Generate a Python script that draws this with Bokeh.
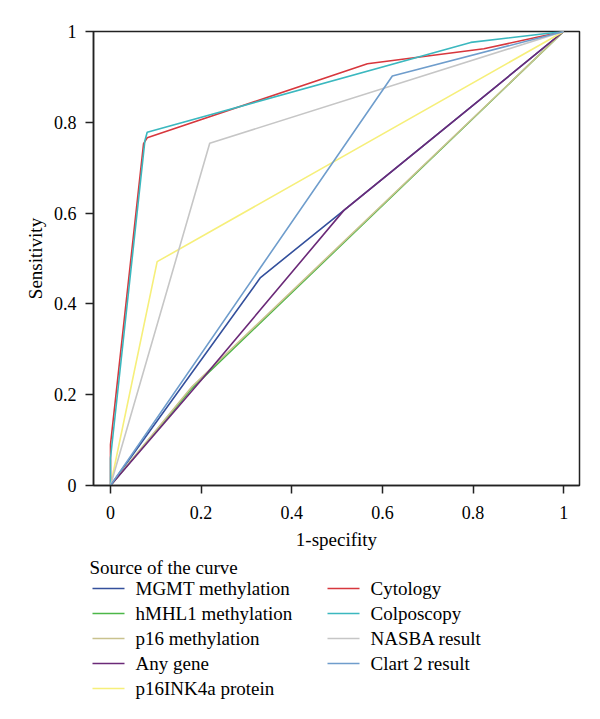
from bokeh.plotting import figure
from bokeh.models import Range1d, FixedTicker
from bokeh.core.properties import value
from bokeh.layouts import column
from bokeh.embed import file_html
from bokeh.resources import INLINE

# ---- data ----
names = ["MGMT methylation", "hMHL1 methylation", "p16 methylation", "Any gene",
         "p16INK4a protein", "Cytology", "Colposcopy", "NASBA result", "Clart 2 result"]
colors = ["#34509c", "#4cb748", "#c9c28e", "#6b2a78", "#f6ef7a",
          "#d7373d", "#3bb8bf", "#c6c6c6", "#6f9dcc"]
legend_title = "Source of the curve"

mgmt_x = [0, 0.331, 0.515, 1]
mgmt_y = [0, 0.458, 0.606, 1]
hmhl1_x = [0, 0.18, 1]
hmhl1_y = [0, 0.214, 1]
p16m_x = [0, 0.18, 1]
p16m_y = [0, 0.218, 1]
any_x = [0, 0.2, 0.515, 1]
any_y = [0, 0.232, 0.606, 1]
p16ink_x = [0, 0.103, 1]
p16ink_y = [0, 0.493, 1]
cyto_x = [0, 0, 0.073, 0.081, 0.567, 0.824, 1]
cyto_y = [0, 0.09, 0.753, 0.766, 0.929, 0.962, 1]
colpo_x = [0, 0, 0.076, 0.081, 0.795, 1]
colpo_y = [0, 0.06, 0.76, 0.778, 0.976, 1]
nasba_x = [0, 0.219, 1]
nasba_y = [0, 0.754, 1]
clart_x = [0, 0.622, 1]
clart_y = [0, 0.902, 1]

xs = [mgmt_x, hmhl1_x, p16m_x, any_x, p16ink_x, cyto_x, colpo_x, nasba_x, clart_x]
ys = [mgmt_y, hmhl1_y, p16m_y, any_y, p16ink_y, cyto_y, colpo_y, nasba_y, clart_y]

ticks = [0, 0.2, 0.4, 0.6, 0.8, 1]
tick_labels = ["0", "0.2", "0.4", "0.6", "0.8", "1"]

FONT = "Liberation Serif"
W = 592

p = figure(width=W, height=553, output_backend="svg", toolbar_location=None,
           x_range=Range1d(-0.0375, 1.035), y_range=Range1d(0, 1),
           min_border_left=93, min_border_right=13, min_border_top=31,
           min_border_bottom=68)
p.frame_align = False
p.grid.visible = False
p.outline_line_color = "#222222"
p.outline_line_width = 1.5

for x, y, c in zip(xs, ys, colors):
    p.line(x, y, line_color=c, line_width=1.6)

for ax in (p.xaxis[0], p.yaxis[0]):
    ax.ticker = FixedTicker(ticks=ticks)
    ax.major_label_overrides = {t: l for t, l in zip(ticks, tick_labels)}
    ax.minor_tick_line_color = None
    ax.axis_line_color = "#222222"
    ax.axis_line_width = 1.5
    ax.major_tick_line_color = "#222222"
    ax.major_tick_line_width = 1.5
    ax.major_tick_out = 8
    ax.major_tick_in = 0
    ax.major_label_text_font = FONT
    ax.major_label_text_font_size = "18px"
    ax.major_label_text_color = "black"
    ax.axis_label_text_font = FONT
    ax.axis_label_text_font_size = "19px"
    ax.axis_label_text_font_style = "normal"
    ax.axis_label_text_color = "black"

p.xaxis[0].axis_label = "1-specifity"
p.yaxis[0].axis_label = "Sensitivity"
p.xaxis[0].major_label_standoff = 12
p.yaxis[0].major_label_standoff = 9
p.yaxis[0].axis_label_standoff = 5
p.xaxis[0].axis_label_standoff = 7

# ---- legend panel below the chart (screen-like coordinates, y downwards) ----
LH = 150
q = figure(width=W, height=LH, output_backend="svg", toolbar_location=None,
           x_range=Range1d(0, W), y_range=Range1d(LH, 0),
           min_border_left=0, min_border_right=0, min_border_top=0,
           min_border_bottom=0)
q.frame_align = False
q.axis.visible = False
q.grid.visible = False
q.outline_line_color = None

title_x, title_y = 89, 14
row0_y, row_h = 35, 25
col_x = [92, 327]
glyph_w, standoff = 32, 11
rows_per_col = 5

q.text(x=[title_x], y=[title_y], text=[legend_title], text_font=value(FONT),
       text_font_size="19px", text_baseline="middle", text_align="left",
       text_color="black")

gx0, gx1, gy, tx, ty = [], [], [], [], []
for i, nm in enumerate(names):
    c = i // rows_per_col
    r = i % rows_per_col
    x0 = col_x[c]
    y = row0_y + r * row_h
    gx0.append(x0)
    gx1.append(x0 + glyph_w)
    gy.append(y)
    tx.append(x0 + glyph_w + standoff)
    ty.append(y)

q.segment(x0=gx0, y0=gy, x1=gx1, y1=gy, line_color=colors, line_width=1.6)
q.text(x=tx, y=ty, text=names, text_font=value(FONT), text_font_size="19px",
       text_baseline="middle", text_align="left", text_color="black")

open("out.html", "w").write(file_html(column(p, q), INLINE))
